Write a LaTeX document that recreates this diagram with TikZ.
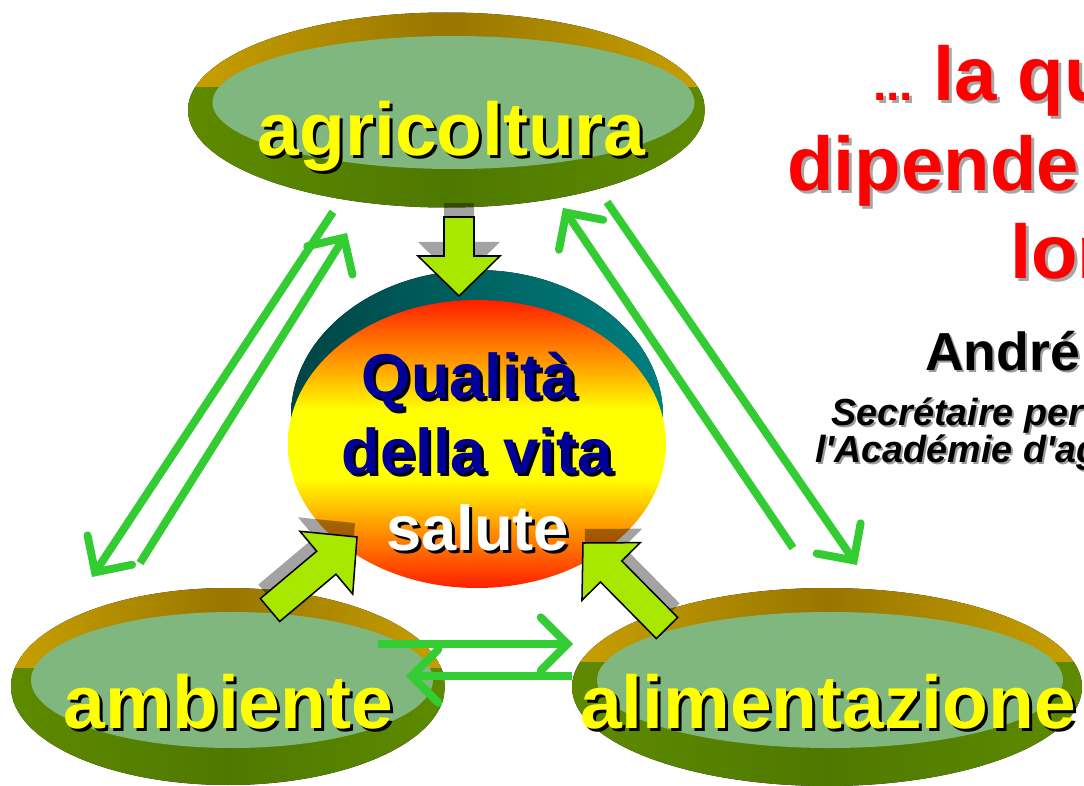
\documentclass[tikz,border=0pt]{standalone}
\usepackage{fontspec}
\setmainfont{Liberation Sans}
\usetikzlibrary{arrows.meta,calc}
\definecolor{gold1}{HTML}{C8A000}
\definecolor{gold2}{HTML}{987600}
\definecolor{dgreen}{HTML}{4E7900}
\definecolor{dgreen2}{HTML}{5E8A00}
\definecolor{face}{HTML}{7FB77F}
\definecolor{lime}{HTML}{A8E800}
\definecolor{lgreen}{HTML}{33CC33}
\definecolor{teal1}{HTML}{004444}
\definecolor{teal2}{HTML}{008080}
\definecolor{navy}{HTML}{000099}
\definecolor{labyel}{HTML}{FFFF00}
\definecolor{qred}{HTML}{FF1E00}
\definecolor{qorng1}{HTML}{FF5A00}
\definecolor{qorng2}{HTML}{FFA800}
\definecolor{qyel}{HTML}{FFFF00}
\definecolor{tred}{HTML}{FF0000}
\pgfdeclareverticalshading{qshade}{100bp}{color(0bp)=(qred); color(25bp)=(qred); color(30bp)=(qorng1); color(37bp)=(qorng2); color(44bp)=(qyel); color(56bp)=(qyel); color(63bp)=(qorng2); color(70bp)=(qorng1); color(75bp)=(qred); color(100bp)=(qred)}
\newcommand{\drawdisk}[9]{%
  \begin{scope}
    \clip (#1,#2) ellipse [x radius=#3, y radius=#4];
    \fill[left color=gold1,right color=gold1,middle color=gold2] ({#1-#3},{#2-#4}) rectangle ({#1+#3},#5);
    \fill[left color=dgreen2,right color=dgreen2,middle color=dgreen] ({#1-#3},#5) rectangle ({#1+#3},{#2+#4});
  \end{scope}
  \fill[face] (#6,#7) ellipse [x radius=#8, y radius=#9];
}
\newcommand{\blockarrow}[3]{%
  \coordinate (bah) at ($(#3)!1.2cm!(#2)$);
  \path[#1] ($(#2)!0.45cm!90:(#3)$) -- ($(bah)!0.45cm!90:(#3)$) -- ($(bah)!1.23cm!90:(#3)$) -- (#3)
    -- ($(bah)!1.23cm!-90:(#3)$) -- ($(bah)!0.45cm!-90:(#3)$) -- ($(#2)!0.45cm!-90:(#3)$) -- cycle;
}
\begin{document}
\begin{tikzpicture}[x=0.03cm,y=-0.03cm,
  lab/.style={inner sep=0, anchor=base, font=\bfseries\fontsize{64}{64}\selectfont},
  ctr/.style={inner sep=0, anchor=base, font=\bfseries\fontsize{54}{54}\selectfont},
  rtext/.style={inner sep=0, anchor=base west, font=\bfseries\fontsize{65}{65}\selectfont},
  itext/.style={inner sep=0, anchor=base west, font=\bfseries\itshape\fontsize{32.2}{33}\selectfont},
  garrow/.style={draw=lgreen, line width=6.8pt, line cap=butt,
    -{Straight Barb[length=0.8cm, width=1.6cm, line cap=round, line join=miter]}},
  barrow/.style={fill=lime, draw=black, line width=1.3pt, line join=miter},
  bshadow/.style={fill=black, opacity=0.36}]
\useasboundingbox (0,0) rectangle (1084,786);
\clip (0,0) rectangle (1084,786);
\fill[white] (0,0) rectangle (1084,786);

% disks
\drawdisk{446.5}{110}{258.5}{97.5}{88}{453.5}{102.5}{241}{66.5}
\drawdisk{228}{686.5}{217}{98.5}{668}{232}{680}{201}{68}
\drawdisk{827}{687}{255}{99}{662}{830}{680}{233}{68}

% centre
\fill[left color=teal1,right color=teal2] (477,416) ellipse [x radius=186, y radius=146];
\shade[shading=qshade] (477,444) ellipse [x radius=189, y radius=144];

% green arrows
\coordinate (a1) at (333,212); \coordinate (a2) at (92,577);
\coordinate (b1) at (140,563); \coordinate (b2) at (347,233);
\coordinate (c1) at (793,548); \coordinate (c2) at (563,208);
\coordinate (d1) at (607,202); \coordinate (d2) at (857,565);
\coordinate (e1) at (378,644); \coordinate (e2) at (573,644);
\coordinate (f1) at (572,676); \coordinate (f2) at (406,676);
\draw[garrow] (a1) -- (a2);
\draw[garrow] (b1) -- (b2);
\draw[garrow] (c1) -- (c2);
\draw[garrow] (d1) -- (d2);
\draw[garrow] (e1) -- (e2);
\draw[garrow] (f1) -- (f2);

% block arrows
\coordinate (t1) at (459,217); \coordinate (h1) at (459,296);
\coordinate (t2) at (270,610); \coordinate (h2) at (357,537);
\coordinate (t3) at (667,628); \coordinate (h3) at (583,543);
\coordinate (st1) at (459,203); \coordinate (sh1) at (459,282);
\coordinate (st2) at (268,596); \coordinate (sh2) at (355,523);
\coordinate (st3) at (669,614); \coordinate (sh3) at (585,529);
\blockarrow{bshadow}{st1}{sh1}
\blockarrow{bshadow}{st2}{sh2}
\blockarrow{bshadow}{st3}{sh3}
\blockarrow{barrow}{t1}{h1}
\blockarrow{barrow}{t2}{h2}
\blockarrow{barrow}{t3}{h3}

% disk labels
\node[lab, text=black] (agri-s) at (454.5,158) {agricoltura};
\node[lab, text=labyel] (agri) at (451.5,155) {agricoltura};
\node[lab, text=black] (amb-s) at (231.5,731) {ambiente};
\node[lab, text=labyel] (amb) at (228.5,728) {ambiente};
\node[lab, text=black] (ali-s) at (831,731) {alimentazione};
\node[lab, text=labyel] (ali) at (828,728) {alimentazione};

% centre labels
\node[ctr, text=black] (q1-s) at (472,401) {Qualità};
\node[ctr, text=navy] (q1) at (469,398) {Qualità};
\node[ctr, text=black] (q2-s) at (480,476) {della vita};
\node[ctr, text=navy] (q2) at (477,473) {della vita};
\node[ctr, text=black] (q3-s) at (480.5,553) {salute};
\node[ctr, text=white] (q3) at (477.5,550) {salute};

% right text
\node[inner sep=0, anchor=base west, font=\bfseries\fontsize{41}{41}\selectfont, text=black!35] (dots-s) at (876,104) {...};
\node[inner sep=0, anchor=base west, font=\bfseries\fontsize{41}{41}\selectfont, text=tred] (dots) at (873,101) {...};
\node[rtext, text=black!35] (r1-s) at (936,104) {la qu};
\node[rtext, text=tred] (r1) at (933,101) {la qu};
\node[rtext, text=black!35] (r2-s) at (790,193) {dipende};
\node[rtext, text=tred] (r2) at (787,190) {dipende};
\node[rtext, text=black!35] (r3-s) at (1013,281) {lor};
\node[rtext, text=tred] (r3) at (1010,278) {lor};
\node[inner sep=0, anchor=base west, font=\bfseries\fontsize{45.7}{46}\selectfont, text=black!40] (an-s) at (927,372) {André};
\node[inner sep=0, anchor=base west, font=\bfseries\fontsize{45.7}{46}\selectfont, text=black] (an) at (925,370) {André};
\node[itext, text=black!40] (s1-s) at (833,427) {Secrétaire per};
\node[itext, text=black] (s1) at (831,425) {Secrétaire per};
\node[itext, text=black!40] (s2-s) at (817,464) {l\textquotesingle Académie d\textquotesingle ag};
\node[itext, text=black] (s2) at (815,462) {l\textquotesingle Académie d\textquotesingle ag};
\end{tikzpicture}
\end{document}
